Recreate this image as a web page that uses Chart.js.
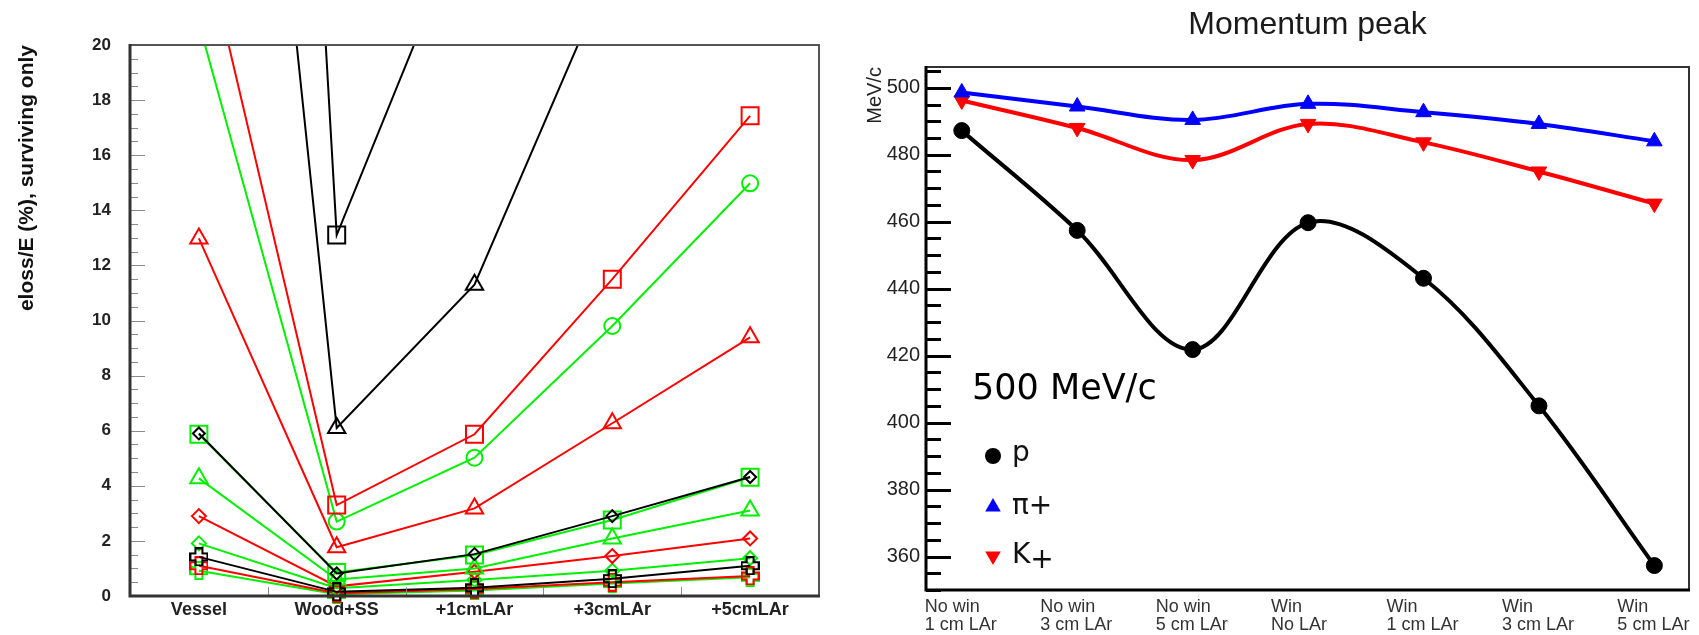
<!DOCTYPE html>
<html>
<head>
<meta charset="utf-8">
<script src="https://cdn.jsdelivr.net/npm/chart.js@4.4.0/dist/chart.umd.min.js"></script>
<style>
  html, body { margin: 0; padding: 0; background: #fff; }
  #wrap { position: relative; width: 1699px; height: 635px; overflow: hidden; }
  .box { position: absolute; top: 0; }
</style>
</head>
<body>
<div id="wrap">
  <div class="box" style="left:0"><canvas id="eloss" width="835" height="635"></canvas></div>
  <div class="box" style="left:835px"><canvas id="peak" width="864" height="635"></canvas></div>
</div>
<script>
// ================= DATA: left panel (eloss/E, surviving only) =================
const stages = ["Vessel", "Wood+SS", "+1cmLAr", "+3cmLAr", "+5cmLAr"];
const blackSquare   = [100, 13.1, 25.4, 40, 55];
const blackTriangle = [54, 6.1, 11.3, 22.9, 35];
const blackDiamond  = [5.9, 0.82, 1.52, 2.9, 4.32];
const blackCross    = [1.42, 0.15, 0.3, 0.63, 1.1];
const redSquare     = [24.6, 3.3, 5.87, 11.5, 17.43];
const redTriangle   = [12.98, 1.77, 3.18, 6.27, 9.39];
const redDiamond    = [2.9, 0.35, 0.88, 1.45, 2.09];
const redCross      = [1.1, 0.1, 0.25, 0.5, 0.73];
const greenCircle   = [20.8, 2.7, 5.02, 9.8, 14.98];
const greenSquare   = [5.87, 0.85, 1.49, 2.76, 4.31];
const greenTriangle = [4.27, 0.6, 1.0, 2.09, 3.1];
const greenDiamond  = [1.91, 0.28, 0.58, 0.92, 1.37];
const greenCross    = [0.92, 0.06, 0.2, 0.45, 0.68];
const elossTicks    = [0, 2, 4, 6, 8, 10, 12, 14, 16, 18, 20];

// ================= DATA: right panel (momentum peak) =================
const setups = [["No win", "1 cm LAr"], ["No win", "3 cm LAr"], ["No win", "5 cm LAr"],
                ["Win", "No LAr"], ["Win", "1 cm LAr"], ["Win", "3 cm LAr"], ["Win", "5 cm LAr"]];
const protonPeak = [487.2, 457.4, 421.8, 459.7, 443.1, 405.0, 357.3];
const pionPeak   = [498.6, 494.4, 490.4, 495.2, 492.7, 489.2, 484.0];
const kaonPeak   = [496.2, 488.0, 478.4, 489.2, 483.7, 475.0, 465.4];
const peakTicks  = [360, 380, 400, 420, 440, 460, 480, 500];

const RED = "#ff0000", GREEN = "#00f000", BLACK = "#000000";

// open cross marker (ROOT style), drawn once per colour
function openCross(color){
    const s = 19, w = 7, c = document.createElement("canvas");
    c.width = s; c.height = s;
    const g = c.getContext("2d");
    const a = (s - w) / 2, b = a + w;
    g.strokeStyle = color; g.lineWidth = 2;
    g.beginPath();
    g.moveTo(a, 1); g.lineTo(b, 1); g.lineTo(b, a); g.lineTo(s-1, a); g.lineTo(s-1, b);
    g.lineTo(b, b); g.lineTo(b, s-1); g.lineTo(a, s-1); g.lineTo(a, b); g.lineTo(1, b);
    g.lineTo(1, a); g.lineTo(a, a); g.closePath();
    g.stroke();
    return c;
}

function series(data, color, style, radius){
    return {
        data, borderColor: color, borderWidth: 2, tension: 0,
        pointStyle: style, pointRadius: radius,
        pointBorderColor: color, pointBackgroundColor: "rgba(0,0,0,0)", pointBorderWidth: 2,
        clip: {left: 14, right: 14, top: 0, bottom: 14}
    };
}

// ================= PLUGINS =================
// frame around the plot + inward tick marks
const frame = {
    id: "frame",
    afterDraw(chart, args, o){
        const {ctx, chartArea: a, scales} = chart;
        ctx.save();
        ctx.lineCap = "butt";
        // ticks
        ctx.strokeStyle = o.tickColor; ctx.lineWidth = o.tickWidth;
        ctx.beginPath();
        for(let v = o.yMin; v <= o.yMax + 1e-9; v += o.minorStep){
            const y = Math.round(scales.y.getPixelForValue(v)) + 0.5;
            const major = Math.abs(v / o.majorStep - Math.round(v / o.majorStep)) < 1e-6;
            ctx.moveTo(a.left, y);
            ctx.lineTo(a.left + (major ? o.majorLen : o.minorLen), y);
        }
        (o.xTicks || []).forEach(v => {
            const x = Math.round(scales.x.getPixelForValue(v)) + 0.5;
            ctx.moveTo(x, a.bottom); ctx.lineTo(x, a.bottom - o.xLen);
        });
        ctx.stroke();
        // box
        ctx.lineWidth = o.thin; ctx.strokeStyle = o.thinColor;
        ctx.beginPath();
        ctx.moveTo(a.left, a.top); ctx.lineTo(a.right, a.top); ctx.lineTo(a.right, a.bottom);
        ctx.stroke();
        ctx.lineWidth = o.thick; ctx.strokeStyle = o.thickColor;
        ctx.beginPath();
        ctx.moveTo(a.left, a.top - o.thin/2); ctx.lineTo(a.left, a.bottom); ctx.lineTo(a.right + o.thin/2, a.bottom);
        ctx.stroke();
        ctx.restore();
    }
};

// title, "500 MeV/c" label and the marker legend of the momentum plot
const peakNotes = {
    id: "peakNotes",
    afterDraw(chart){
        const {ctx, chartArea: a} = chart;
        ctx.save();
        ctx.textBaseline = "middle";
        ctx.textAlign = "center";
        ctx.fillStyle = "#1a1a1a";
        ctx.font = '32px "Liberation Sans"';
        ctx.fillText("Momentum peak", (a.left + a.right) / 2, 25);
        ctx.textAlign = "left";
        ctx.fillStyle = "#000";
        ctx.font = '35px "DejaVu Sans"';
        ctx.fillText("500 MeV/c", a.left + 46, a.top + 323);
        ctx.font = '28px "DejaVu Sans"';
        const rows = [a.top + 389, a.top + 440, a.top + 489];
        chart.data.datasets.forEach((ds, i) => {
            const y = rows[i], x = a.left + 67;
            ctx.fillStyle = ds.pointBackgroundColor;
            ctx.beginPath();
            if(ds.pointStyle === "circle"){
                ctx.arc(x, y, 8, 0, Math.PI * 2);
            } else {
                const r = 9, d = ds.pointRotation ? -1 : 1;
                ctx.moveTo(x, y - d * r);
                ctx.lineTo(x + r * 0.866, y + d * r * 0.5);
                ctx.lineTo(x - r * 0.866, y + d * r * 0.5);
                ctx.closePath();
            }
            ctx.fill();
            ctx.fillStyle = "#111";
            if(ds.label === "K+"){
                ctx.fillText("K", a.left + 86, y);
                ctx.fillText("+", a.left + 86 + ctx.measureText("K").width, y + 5);
            } else {
                ctx.fillText(ds.label, a.left + 86, y - (ds.label === "p" ? 2 : 0));
            }
        });
        ctx.restore();
    }
};

Chart.defaults.font.family = '"Liberation Sans", Arial, sans-serif';
Chart.defaults.color = "#111";

// ================= LEFT CHART =================
new Chart(document.getElementById("eloss").getContext("2d"), {
    type: "line",
    data: {
        labels: stages,
        datasets: [
            series(blackDiamond, BLACK, "rectRot", 6),
            series(blackSquare, BLACK, "rect", 12),
            series(blackTriangle, BLACK, "triangle", 10),
            series(blackCross, BLACK, openCross(BLACK), 9),
            series(greenSquare, GREEN, "rect", 12),
            series(redSquare, RED, "rect", 12),
            series(greenCircle, GREEN, "circle", 8),
            series(redTriangle, RED, "triangle", 10),
            series(greenTriangle, GREEN, "triangle", 10),
            series(redDiamond, RED, "rectRot", 7),
            series(greenDiamond, GREEN, "rectRot", 7),
            series(redCross, RED, openCross(RED), 9),
            series(greenCross, GREEN, openCross(GREEN), 9)
        ]
    },
    options: {
        responsive: false, animation: false, events: [],
        layout: {padding: {left: 0, top: 45, right: 16, bottom: 0}},
        plugins: {
            legend: {display: false}, tooltip: {enabled: false},
            frame: {yMin: 0, yMax: 20, minorStep: 0.5, majorStep: 2, majorLen: 15, minorLen: 8,
                    xTicks: [0.5, 1.5, 2.5, 3.5], xLen: 9, tickColor: "#8a8a8a", tickWidth: 1,
                    thin: 2, thinColor: "#555", thick: 3, thickColor: "#333"}
        },
        scales: {
            x: {
                type: "category", offset: true,
                grid: {display: false, drawTicks: false}, border: {display: false},
                ticks: {font: {size: 18, weight: "bold"}, color: "#222", padding: 3, maxRotation: 0, autoSkip: false},
                afterFit(s){ s.height = 39; s.paddingLeft = 0; s.paddingRight = 0; }
            },
            y: {
                min: 0, max: 20,
                grid: {display: false, drawTicks: false}, border: {display: false},
                afterBuildTicks(s){ s.ticks = elossTicks.map(v => ({value: v})); },
                ticks: {font: {size: 17, weight: "bold"}, color: "#222", padding: 19},
                title: {display: true, text: "eloss/E (%), surviving only", align: "end",
                        font: {size: 21, weight: "bold"}, color: "#111", padding: {top: 15, bottom: 0}},
                afterFit(s){ s.width = 130; s.paddingTop = 0; s.paddingBottom = 0; }
            }
        }
    },
    plugins: [frame]
});

// ================= RIGHT CHART =================
function peakSeries(label, data, color, style, rotation, radius){
    return {
        label, borderColor: color, borderWidth: 4, tension: 0.35,
        data: data.map((v, i) => ({x: i, y: v})),
        pointStyle: style, pointRotation: rotation, pointRadius: radius,
        pointBackgroundColor: color, pointBorderColor: color, pointBorderWidth: 1
    };
}

new Chart(document.getElementById("peak").getContext("2d"), {
    type: "line",
    data: {
        datasets: [
            peakSeries("p", protonPeak, BLACK, "circle", 0, 8),
            peakSeries("π+", pionPeak, "#0000ff", "triangle", 0, 9),
            peakSeries("K+", kaonPeak, RED, "triangle", 180, 9)
        ]
    },
    options: {
        responsive: false, animation: false, events: [],
        layout: {padding: {left: 0, top: 67, right: 8, bottom: 0}},
        plugins: {
            legend: {display: false}, tooltip: {enabled: false},
            frame: {yMin: 350, yMax: 506, minorStep: 5, majorStep: 20, majorLen: 25, minorLen: 15,
                    xTicks: [], xLen: 0, tickColor: "#000", tickWidth: 3,
                    thin: 2, thinColor: "#333", thick: 3, thickColor: "#000"}
        },
        scales: {
            x: {
                type: "linear", min: -0.31, max: 6.3,
                grid: {display: false, drawTicks: false}, border: {display: false},
                afterBuildTicks(s){ s.ticks = setups.map((t, i) => ({value: i})); },
                ticks: {callback: v => setups[v], align: "start", labelOffset: -37,
                        font: {size: 18, lineHeight: 1.0}, color: "#333", padding: 8,
                        maxRotation: 0, minRotation: 0, autoSkip: false},
                afterFit(s){ s.height = 45; s.paddingLeft = 0; s.paddingRight = 0; }
            },
            y: {
                min: 350, max: 506.2,
                grid: {display: false, drawTicks: false}, border: {display: false},
                afterBuildTicks(s){ s.ticks = peakTicks.map(v => ({value: v})); },
                ticks: {font: {size: 20}, color: "#222", padding: 6},
                title: {display: true, text: "MeV/c", align: "end", color: "#222",
                        font: {size: 20}, padding: {top: 28, bottom: 0}},
                afterFit(s){ s.width = 91; s.paddingTop = 0; s.paddingBottom = 0; }
            }
        }
    },
    plugins: [frame, peakNotes]
});
</script>
</body>
</html>
